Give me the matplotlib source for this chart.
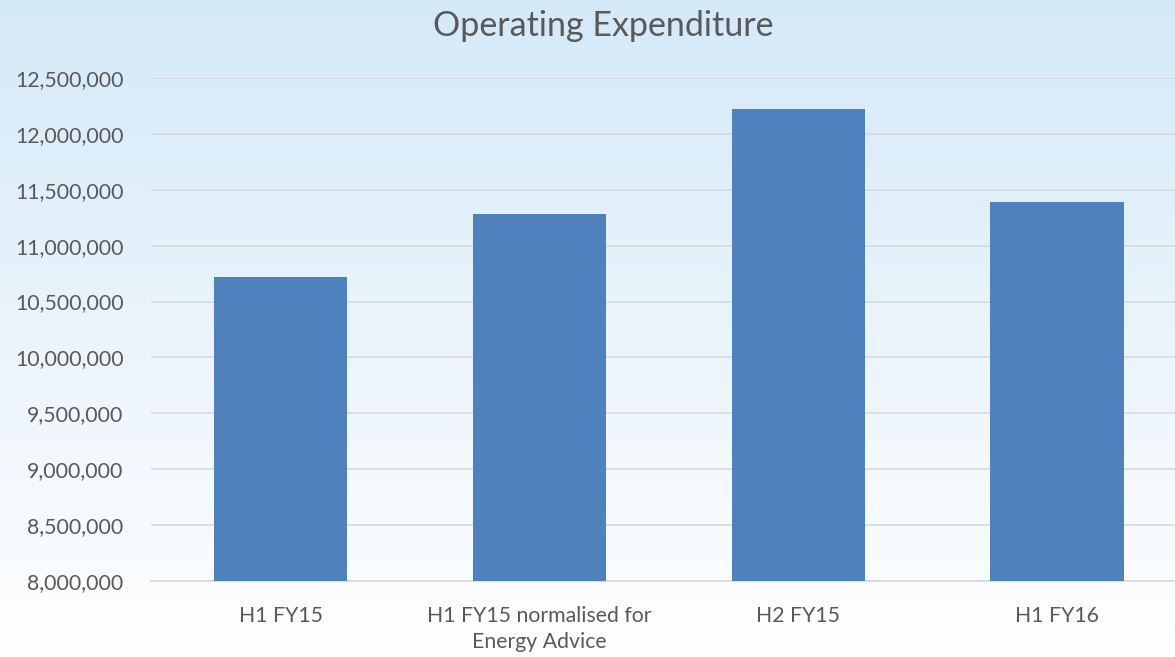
import numpy as np
import matplotlib
matplotlib.use('Agg')
import matplotlib.pyplot as plt
from matplotlib.colors import LinearSegmentedColormap
from matplotlib.ticker import FuncFormatter

plt.rcParams['font.family'] = ['Lato', 'DejaVu Sans']

# data
categories = ['H1 FY15', 'H1 FY15 normalised for\nEnergy Advice', 'H2 FY15', 'H1 FY16']
opex = [10720000, 11283000, 12222000, 11390000]

BAR = '#4f81bd'
TXT = '#595959'
GRID = '#d9d9d9'

fig = plt.figure(figsize=(11.75, 6.57), dpi=100)

# soft blue -> white background gradient
bg = fig.add_axes([0, 0, 1, 1], zorder=0)
grad = np.linspace(0, 1, 256).reshape(-1, 1)
bg_cmap = LinearSegmentedColormap.from_list('bg', ['#d4e9f8', '#ffffff'])
bg.imshow(grad, aspect='auto', cmap=bg_cmap, extent=[0, 1, 0, 1], origin='upper')
bg.axis('off')

# plot area runs a little past the right edge of the figure, as in the source
ax = fig.add_axes([0.1287, 0.1157, 0.881, 0.7656], zorder=1)
ax.patch.set_alpha(0)

x = np.arange(len(categories))
ax.bar(x, opex, width=0.515, color=BAR, zorder=3)

ax.set_xlim(-0.5, len(categories) - 0.5)
ax.set_ylim(8000000, 12500000)
ax.set_yticks(np.arange(8000000, 12500001, 500000))
ax.yaxis.set_major_formatter(FuncFormatter(lambda v, p: f'{int(v):,}'))
ax.set_xticks(x)
ax.set_xticklabels(categories, fontsize=15.3, color=TXT, linespacing=1.4)
ax.tick_params(axis='y', labelsize=15.3, labelcolor=TXT, length=0, pad=20)
ax.tick_params(axis='x', length=0, pad=18)

ax.grid(axis='y', color=GRID, lw=1.2, zorder=0)
for s in ['top', 'right', 'left']:
    ax.spines[s].set_visible(False)
ax.spines['bottom'].set_color(GRID)
ax.spines['bottom'].set_linewidth(1.2)

fig.text(0.513, 0.96, 'Operating Expenditure', ha='center', va='center',
         fontsize=24.5, color=TXT)

fig.savefig('out.png', dpi=100)
